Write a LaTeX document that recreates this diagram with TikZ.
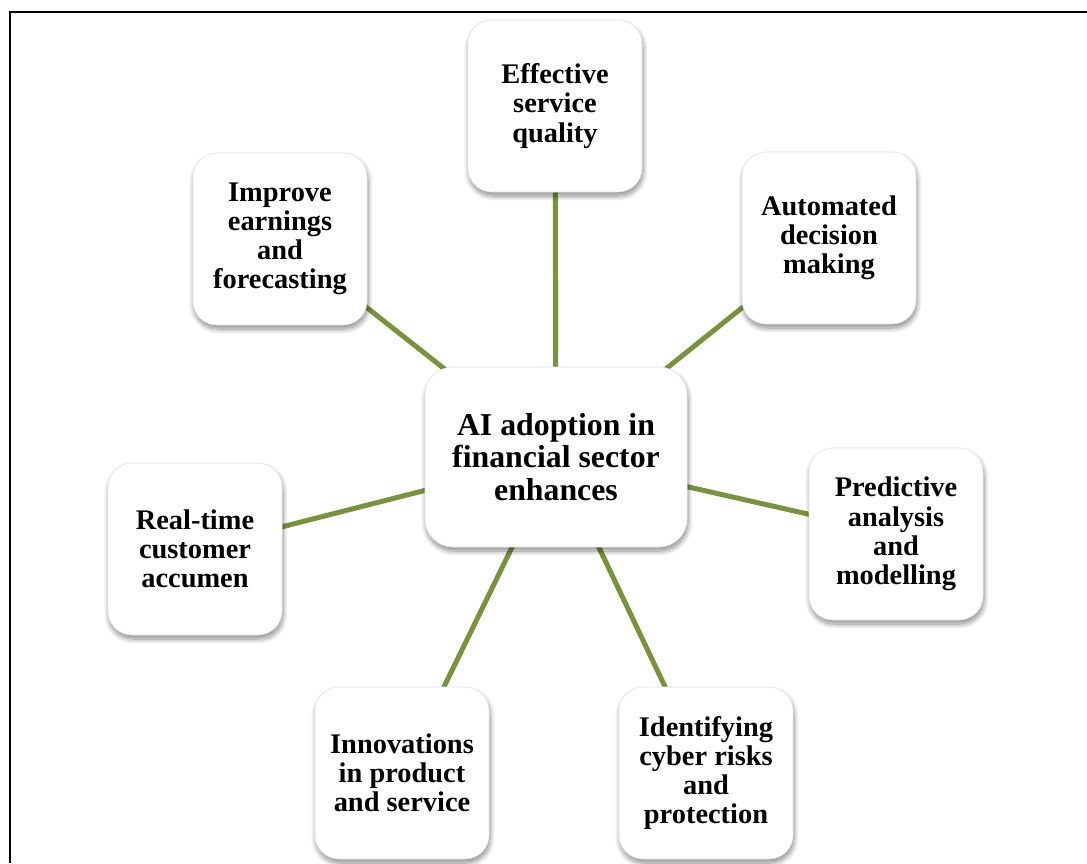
\documentclass[tikz,border=0pt]{standalone}
\usepackage{fontspec}
\setmainfont{Liberation Serif}
\usetikzlibrary{backgrounds,shadows.blur}
\definecolor{olive}{HTML}{77933C}
\tikzset{
  card/.style={draw=black!10, line width=0.6pt, fill=white, rounded corners=24pt,
    minimum width=174pt, minimum height=172pt, align=center, inner sep=4pt,
    font=\bfseries\fontsize{28.4}{29.2}\selectfont,
    blur shadow={shadow xshift=1pt, shadow yshift=-4pt, shadow blur steps=10,
      shadow blur radius=5pt, shadow opacity=45}},
  hub/.style={card, rounded corners=28pt, minimum width=262pt, minimum height=180pt,
    font=\bfseries\fontsize{31.8}{32.4}\selectfont},
  spoke/.style={draw=olive, line width=5pt}
}
\begin{document}
\begin{tikzpicture}[x=1pt,y=-1pt]
\useasboundingbox (0,0) rectangle (1087,863);
% outer frame, open to the right and bottom
\draw[line width=2pt] (10,863) -- (10,12) -- (1087,12);

\node[hub]  (hub)  at (556,457) {AI adoption in\\financial sector\\enhances};
\node[card] (serv) at (555,106) {Effective\\service\\quality};
\node[card] (earn) at (280,239) {Improve\\earnings\\and\\forecasting};
\node[card] (auto) at (829,238) {Automated\\decision\\making};
\node[card] (cust) at (195,549) {Real-time\\customer\\accumen};
\node[card] (pred) at (896,534) {Predictive\\analysis\\and\\modelling};
\node[card] (innov) at (402,773) {Innovations\\in product\\and service};
\node[card] (cyber) at (706,773) {Identifying\\cyber risks\\and\\protection};

\begin{pgfonlayer}{background}
  \foreach \t in {serv,earn,auto,cust,pred,innov,cyber}
    \draw[spoke] (hub.center) -- (\t.center);
\end{pgfonlayer}
\end{tikzpicture}
\end{document}
